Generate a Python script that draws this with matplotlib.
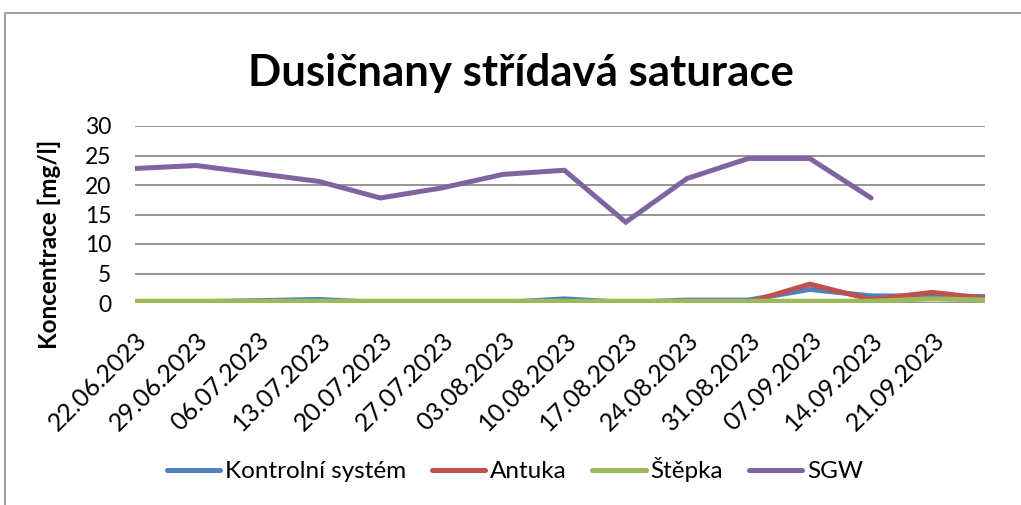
import matplotlib
matplotlib.use("Agg")
import matplotlib.pyplot as plt
import matplotlib.dates as mdates
from matplotlib.patches import Rectangle
import numpy as np
import pandas as pd

plt.rcParams['font.family'] = ['Lato', 'DejaVu Sans']

# measurement dates
dates = pd.to_datetime(["22.06.2023", "29.06.2023", "13.07.2023", "20.07.2023",
                        "27.07.2023", "03.08.2023", "10.08.2023", "17.08.2023",
                        "24.08.2023", "31.08.2023", "07.09.2023", "14.09.2023",
                        "21.09.2023", "27.09.2023"], format="%d.%m.%Y")

kontrolni = [0.0, 0.2, 0.6, 0.1, 0.1, 0.1, 0.7, 0.1, 0.5, 0.5, 2.3, 1.2, 1.2, 1.1]
antuka = [0.1, 0.1, 0.2, 0.1, 0.0, -0.1, 0.2, -0.1, 0.0, 0.1, 3.2, 0.6, 1.8, 0.8]
stepka = [0.3, 0.3, 0.3, 0.3, 0.3, 0.3, 0.3, 0.3, 0.3, 0.3, 0.3, 0.3, 0.7, 0.5]
sgw = [22.8, 23.3, 20.6, 17.8, 19.5, 21.8, 22.5, 13.7, 21.1, 24.5, 24.5, 17.8,
       np.nan, np.nan]

series = [("Kontrolní systém", kontrolni, "#4F81BD"),
          ("Antuka", antuka, "#C0504D"),
          ("Štěpka", stepka, "#9BBB59"),
          ("SGW", sgw, "#8064A2")]

fig = plt.figure(figsize=(10.21, 5.05), dpi=100)
fig.patches.append(Rectangle((5 / 1021, -0.1), 1.1, 1 - 13 / 505 + 0.1,
                             transform=fig.transFigure, fill=False,
                             edgecolor="#8c8c8c", linewidth=1.2))

ax = fig.add_axes([135 / 1021, 1 - 303 / 505, 850 / 1021, 177 / 505])

for name, vals, col in series:
    ax.plot(dates, vals, color=col, linewidth=3.6, label=name,
            solid_capstyle="round", solid_joinstyle="miter")

ax.set_ylim(0, 30)
ax.set_yticks(range(0, 31, 5))
ax.set_xlim(dates[0], dates[-1])
ticks = pd.date_range("2023-06-22", "2023-09-21", freq="7D")
ax.set_xticks(ticks)
ax.xaxis.set_major_formatter(mdates.DateFormatter("%d.%m.%Y"))
plt.setp(ax.get_xticklabels(), rotation=45, ha="right", rotation_mode="anchor")

ax.grid(axis="y", color="#8c8c8c", linewidth=1.3)
ax.set_axisbelow(True)
for s in ["top", "right", "left", "bottom"]:
    ax.spines[s].set_visible(False)
ax.tick_params(axis="both", length=0)
ax.tick_params(axis="y", pad=17, labelsize=16.5)
ax.tick_params(axis="x", pad=18, labelsize=18)

ax.set_ylabel("Koncentrace [mg/l]", fontsize=17.5, fontweight="bold")
ax.yaxis.set_label_coords(-0.087, 0.333)
fig.text(521 / 1021, 1 - 86 / 505, "Dusičnany střídavá saturace",
         ha="center", va="baseline", fontsize=31.5, fontweight="bold")

fig.legend(loc="center", bbox_to_anchor=(515 / 1021, 1 - 470 / 505), ncol=4,
           frameon=False, fontsize=17.5, handlelength=2.2, handletextpad=0.2,
           columnspacing=1.05)

fig.savefig("out.png", dpi=100)
